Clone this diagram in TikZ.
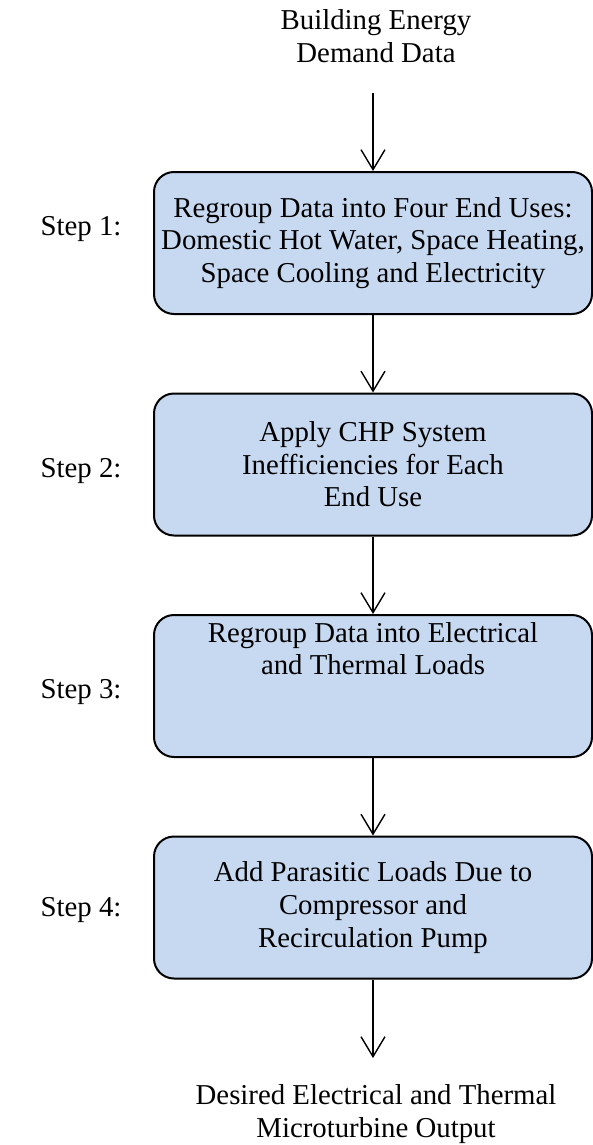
\documentclass[tikz,border=0pt]{standalone}
\usepackage{fontspec}
\setmainfont{Liberation Serif}
\usepackage{xcolor}
\definecolor{box_blue}{RGB}{198,217,241}
\usetikzlibrary{arrows.meta}

\begin{document}
\begin{tikzpicture}[x=0.5pt, y=-0.5pt,
  font=\fontsize{14.4}{16.3}\selectfont,
  stepbox/.style={draw, line width=1pt, fill=box_blue, rounded corners=10pt,
    minimum width=219pt, minimum height=71pt, align=center, inner sep=0pt},
  flow/.style={line width=0.7pt, -{Straight Barb[length=10pt, width=12pt]}}]
\useasboundingbox (0,0) rectangle (593,1145);

\node[align=center] (demand) at (376,36) {Building Energy\\Demand Data};
\coordinate (in) at (373,93);

\node[stepbox] (box1) at (373,243) {Regroup Data into Four End Uses:\\Domestic Hot Water, Space Heating,\\Space Cooling and Electricity};
\node[stepbox] (box2) at (373,464.5) {Apply CHP System\\Inefficiencies for Each\\End Use};
\node[stepbox] (box3) at (373,686) {Regroup Data into Electrical\\and Thermal Loads\\ \strut\\ \strut};
\node[stepbox] (box4) at (373,907.5) {Add Parasitic Loads Due to\\Compressor and\\Recirculation Pump};

\coordinate (out) at (373,1058);
\node[align=center] (output) at (376,1114) {Desired Electrical and Thermal\\Microturbine Output};

% step labels
\node (step1) at (81,229) {Step 1:};
\node (step2) at (81,471) {Step 2:};
\node (step3) at (81,692) {Step 3:};
\node (step4) at (81,910) {Step 4:};

\draw[flow] (in) -- (box1);
\draw[flow] (box1) -- (box2);
\draw[flow] (box2) -- (box3);
\draw[flow] (box3) -- (box4);
\draw[flow] (box4) -- (out);

\end{tikzpicture}
\end{document}
